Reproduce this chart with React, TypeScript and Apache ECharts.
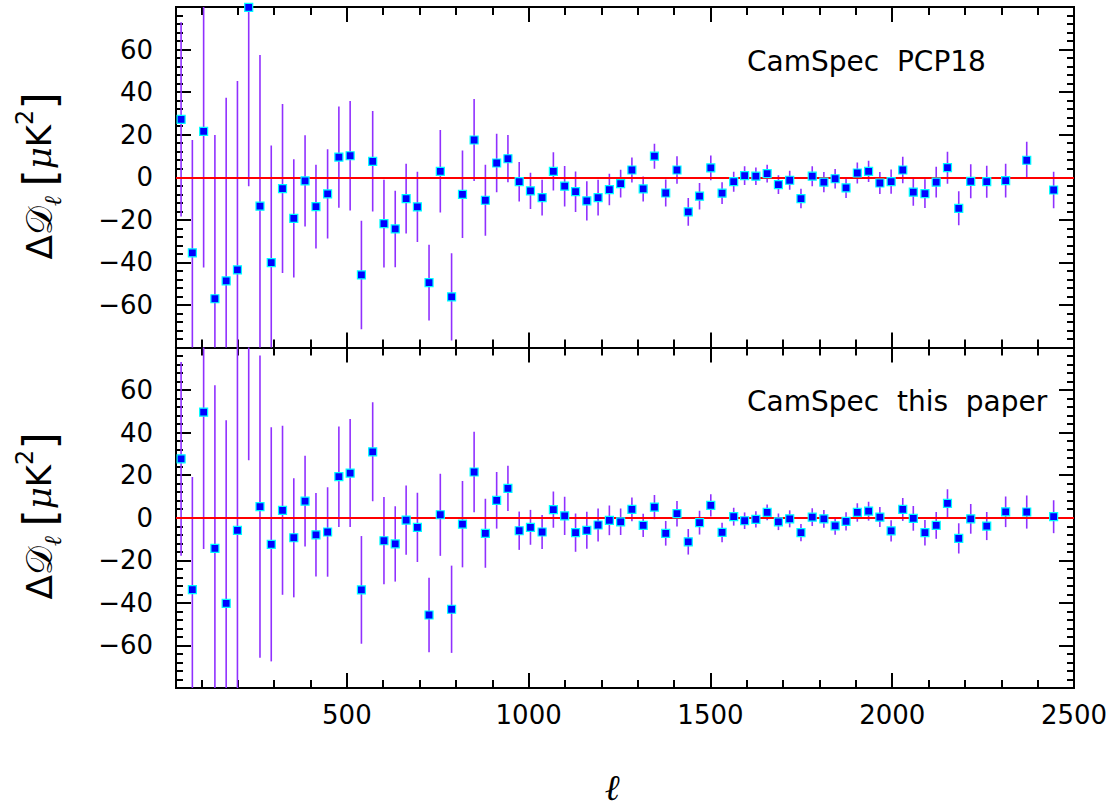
import React, { useEffect, useRef } from "react";
import * as echarts from "echarts";

// multipole bin centres
const ell = [44, 75, 106, 137, 168, 199, 230, 261, 292, 323, 354, 385, 415, 447, 478, 509, 540, 571, 602, 633, 663, 694, 726, 757, 788, 818, 850, 881, 912, 943, 974, 1005, 1037, 1068, 1099, 1129, 1160, 1191, 1222, 1253, 1284, 1315, 1346, 1377, 1408, 1439, 1470, 1501, 1532, 1564, 1594, 1625, 1656, 1687, 1718, 1749, 1780, 1812, 1843, 1873, 1904, 1935, 1966, 1997, 2029, 2058, 2090, 2121, 2152, 2183, 2216, 2260, 2312, 2370, 2444];

// CamSpec PCP18 residuals and errors
const pcp18Values = [27.2, -35.5, 21.6, -57.1, -48.7, -43.5, 79.8, -13.6, -40.1, -5.3, -19.3, -1.7, -13.8, -7.8, 9.5, 10.1, -45.9, 7.5, -21.8, -24.3, -10, -13.9, -49.5, 2.8, -56.2, -8, 17.5, -10.8, 6.7, 8.7, -2.1, -6.4, -9.6, 2.8, -4.2, -6.8, -11.1, -9.6, -5.8, -3, 3.4, -5.5, 9.9, -7.4, 3.4, -16.3, -8.9, 4.4, -7.5, -2.1, 0.8, 0.5, 1.7, -3.5, -1.4, -10, 0.5, -2.3, -0.7, -5, 2, 2.8, -2.7, -2.1, 3.4, -7, -7.7, -2.3, 4.5, -14.6, -1.9, -2.1, -1.6, 8, -6];
const pcp18Errors = [45.6, 53, 64, 77, 86, 88.7, 84, 71, 55, 39.7, 27.8, 21.4, 19.7, 21, 23.8, 25.7, 25.5, 23.6, 20.6, 18, 16.4, 16.5, 17.8, 19.4, 20.5, 20.6, 19.3, 16.7, 13.7, 11.1, 9.3, 8.5, 8.4, 9, 9.5, 9.5, 9.2, 8.4, 7.4, 6.5, 5.9, 5.9, 5.9, 6.3, 6.5, 6.5, 6.2, 5.8, 5.1, 4.7, 4.4, 4.1, 4.2, 4.4, 4.5, 4.6, 4.7, 4.75, 4.6, 4.8, 4.9, 5, 5.2, 5.7, 6.2, 6.4, 6.8, 7.2, 7.5, 8, 8, 7.5, 7.9, 8.7, 8.6];

// CamSpec this paper residuals and errors
const paperValues = [27.7, -33.8, 49.6, -14.4, -40.2, -5.9, 111, 5.2, -12.5, 3.5, -9.4, 7.8, -8, -6.7, 19.3, 21, -33.9, 31, -10.8, -12.3, -1.1, -4.5, -45.7, 1.4, -43, -3, 21.5, -7.3, 8.2, 13.8, -6.1, -4.5, -6.7, 3.8, 0.9, -7, -5.9, -3.4, -1.2, -1.9, 3.9, -3.6, 5, -7.3, 1.9, -11.3, -2.3, 5.8, -6.9, 0.5, -1.4, -0.8, 2.5, -1.9, -0.5, -7, 0.3, -0.5, -3.8, -1.7, 2.5, 3.1, 0.3, -6.2, 3.9, -0.3, -7, -3.6, 6.8, -9.7, -0.5, -3.9, 2.8, 2.7, 0.5];
const paperErrors = [45.5, 53, 64.3, 76.7, 86, 89, 84, 71, 55, 39.7, 28, 21.3, 19.6, 21, 23.6, 25.4, 25.3, 23.3, 20.5, 17.7, 16.3, 16.3, 17.5, 19.3, 20.5, 20.3, 18.9, 16.2, 13.3, 10.6, 9, 8.2, 8, 8.5, 9, 9, 8.7, 7.8, 7, 6.2, 5.6, 5.5, 5.7, 5.8, 6, 6, 5.6, 5.2, 4.6, 4.2, 3.9, 3.8, 3.7, 3.9, 4, 4.1, 4.2, 4.2, 4.2, 4.3, 4.35, 4.45, 4.7, 5, 5.4, 5.8, 6, 6.3, 6.6, 7.1, 7, 6.6, 7.2, 7.8, 7.75];

const panelTitles = ["CamSpec  PCP18", "CamSpec  this  paper"];
const xLabelValues = [500, 1000, 1500, 2000, 2500];
const xMajorTicks = [500, 1000, 1500, 2000, 2500];
const xMinorTicks = [100, 200, 300, 400, 500, 600, 700, 800, 900, 1000, 1100, 1200, 1300, 1400, 1500, 1600, 1700, 1800, 1900, 2000, 2100, 2200, 2300, 2400, 2500];
const X_MIN = 30;
const X_MAX = 2500;
const Y_MIN = -80;
const Y_MAX = 80;
const Y_STEP = 20;

const FONT = "DejaVu Sans";
const GRID_LEFT = 176;
const GRID_WIDTH = 898;
const GRID_TOPS = [7, 347.5];
const GRID_HEIGHT = 340.5;

function makeXAxes(gridIndex: number, withLabels: boolean) {
  const base = {
    type: "value",
    gridIndex,
    min: X_MIN,
    max: X_MAX,
    splitLine: { show: false },
    axisLine: { show: true, onZero: false, lineStyle: { color: "#000", width: 2 } },
  };
  const axes: any[] = [];
  (["bottom", "top"] as const).forEach((pos) => {
    axes.push({
      ...base,
      position: pos,
      axisTick: { show: true, inside: true, length: 15, customValues: xMajorTicks, lineStyle: { color: "#000", width: 2 } },
      axisLabel:
        pos === "bottom" && withLabels
          ? {
              show: true,
              customValues: xLabelValues,
              margin: 14,
              color: "#000",
              fontFamily: FONT,
              fontSize: 26,
              formatter: (v: number) => String(v),
            }
          : { show: false },
    });
    axes.push({
      ...base,
      position: pos,
      axisTick: { show: true, inside: true, length: 8, customValues: xMinorTicks, lineStyle: { color: "#000", width: 2 } },
      axisLabel: { show: false },
    });
  });
  return axes;
}

function makeYAxes(gridIndex: number) {
  const base = {
    type: "value",
    gridIndex,
    min: Y_MIN,
    max: Y_MAX,
    interval: Y_STEP,
    splitLine: { show: false },
    axisLine: { show: true, onZero: false, lineStyle: { color: "#000", width: 2 } },
    axisTick: { show: true, inside: true, length: 15, lineStyle: { color: "#000", width: 2 } },
    minorTick: { show: true, splitNumber: 5, length: 7, lineStyle: { color: "#000", width: 2 } },
    minorSplitLine: { show: false },
  };
  return [
    {
      ...base,
      position: "left",
      axisLabel: {
        show: true,
        showMinLabel: false,
        showMaxLabel: false,
        margin: 23,
        color: "#000",
        fontFamily: FONT,
        fontSize: 26,
        formatter: (v: number) => String(v).replace("-", "\u2212"),
      },
    },
    { ...base, position: "right", axisLabel: { show: false } },
  ];
}

function makeSeries(gridIndex: number, values: number[], errors: number[]) {
  const xAxisIndex = gridIndex * 4;
  const yAxisIndex = gridIndex * 2;
  return [
    {
      type: "custom",
      xAxisIndex,
      yAxisIndex,
      clip: true,
      z: 2,
      silent: true,
      data: ell.map((x, i) => [x, values[i], errors[i]]),
      encode: { x: 0, y: 1 },
      renderItem: (_params: any, api: any) => {
        const x = api.value(0);
        const y = api.value(1);
        const e = api.value(2);
        const p1 = api.coord([x, y - e]);
        const p2 = api.coord([x, y + e]);
        return {
          type: "line",
          shape: { x1: p1[0], y1: p1[1], x2: p2[0], y2: p2[1] },
          style: { stroke: "#9030ff", lineWidth: 1.6 },
        };
      },
    },
    {
      type: "line",
      xAxisIndex,
      yAxisIndex,
      data: [],
      z: 3,
      silent: true,
      markLine: {
        silent: true,
        symbol: ["none", "none"],
        label: { show: false },
        lineStyle: { color: "#ff0000", width: 2, type: "solid" },
        data: [{ yAxis: 0 }],
      },
    },
    {
      type: "scatter",
      xAxisIndex,
      yAxisIndex,
      z: 5,
      clip: true,
      symbol: "rect",
      symbolSize: 8,
      data: ell.map((x, i) => [x, values[i]]),
      itemStyle: { color: "#0000ff", borderColor: "#00ffff", borderWidth: 1.2, opacity: 1 },
    },
  ];
}

function yNameGraphic(cy: number) {
  return {
    type: "text",
    x: 39,
    y: cy,
    rotation: Math.PI / 2,
    style: {
      text: "{d|\u0394\uD835\uDC9F}{s|\u2113}{g| }{k|[}{m|\u03BC}{b|K}{p|2}{k|]}",
      align: "center",
      verticalAlign: "middle",
      fill: "#000",
      rich: {
        d: { fontFamily: FONT, fontSize: 36, fill: "#000", verticalAlign: "middle", lineHeight: 52 },
        s: { fontFamily: "DejaVu Serif", fontStyle: "italic", fontSize: 24, fill: "#000", verticalAlign: "bottom", lineHeight: 26 },
        g: { fontFamily: FONT, fontSize: 30, fill: "#000", verticalAlign: "middle", lineHeight: 52 },
        k: { fontFamily: FONT, fontSize: 44, fill: "#000", verticalAlign: "middle", lineHeight: 52 },
        m: { fontFamily: "DejaVu Serif", fontStyle: "italic", fontSize: 34, fill: "#000", verticalAlign: "middle", lineHeight: 52 },
        b: { fontFamily: FONT, fontSize: 34, fill: "#000", verticalAlign: "middle", lineHeight: 52 },
        p: { fontFamily: FONT, fontSize: 24, fill: "#000", verticalAlign: "top", lineHeight: 26 },
      },
    },
  };
}

export default function App() {
  const ref = useRef<HTMLDivElement>(null);
  useEffect(() => {
    if (!ref.current) return;
    const chart = echarts.init(ref.current, null, { renderer: "svg" });
    const option: any = {
      animation: false,
      backgroundColor: "#fff",
      grid: GRID_TOPS.map((top) => ({
        left: GRID_LEFT,
        top,
        width: GRID_WIDTH,
        height: GRID_HEIGHT,
        containLabel: false,
        outerBoundsMode: "none",
      })),
      xAxis: [...makeXAxes(0, false), ...makeXAxes(1, true)],
      yAxis: [...makeYAxes(0), ...makeYAxes(1)],
      series: [...makeSeries(0, pcp18Values, pcp18Errors), ...makeSeries(1, paperValues, paperErrors)],
      graphic: [
        { type: "text", x: 747, y: 61, style: { text: panelTitles[0], fontFamily: FONT, fontSize: 28, fill: "#000", align: "left", verticalAlign: "middle" } },
        { type: "text", x: 747, y: 401, style: { text: panelTitles[1], fontFamily: FONT, fontSize: 28, fill: "#000", align: "left", verticalAlign: "middle" } },
        yNameGraphic(176),
        yNameGraphic(516),
        { type: "text", x: 612, y: 787, style: { text: "\u2113", fontFamily: "DejaVu Serif", fontStyle: "italic", fontSize: 36, fill: "#000", align: "center", verticalAlign: "middle" } },
      ],
    };
    chart.setOption(option);
    return () => chart.dispose();
  }, []);
  return <div ref={ref} style={{ position: "absolute", left: 0, top: 0, width: 1114, height: 807 }} />;
}
